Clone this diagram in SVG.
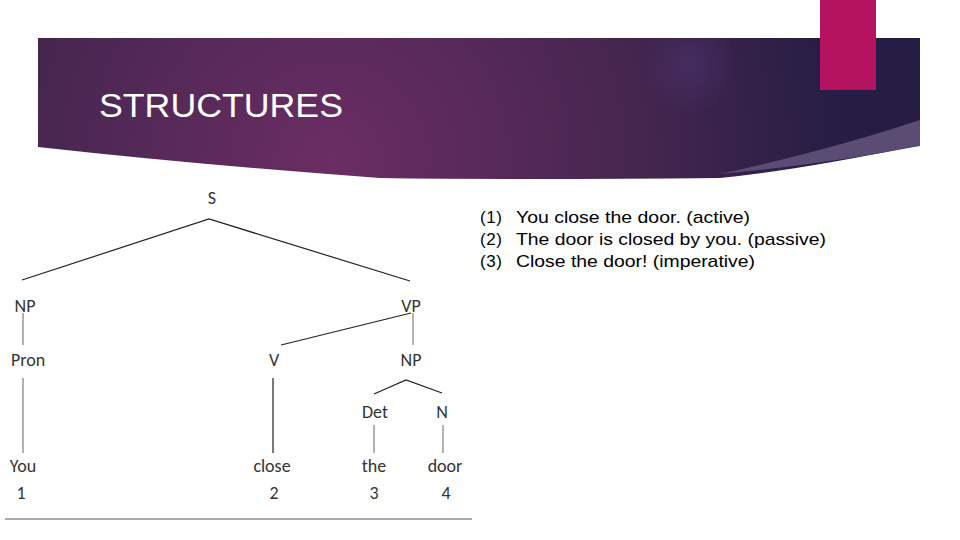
<svg xmlns="http://www.w3.org/2000/svg" width="960" height="540" viewBox="0 0 960 540">
<defs>
<radialGradient id="bg" cx="330" cy="160" r="520" gradientUnits="userSpaceOnUse">
<stop offset="0" stop-color="#6b2d64"/>
<stop offset="0.6" stop-color="#45264f"/>
<stop offset="1" stop-color="#251d44"/>
</radialGradient>
<radialGradient id="glow" cx="690" cy="65" r="50" gradientUnits="userSpaceOnUse">
<stop offset="0" stop-color="#4f3575" stop-opacity="0.5"/>
<stop offset="1" stop-color="#4f3575" stop-opacity="0"/>
</radialGradient>
<style>
.t{font-family:Calibri,"Carlito","Liberation Sans",sans-serif;font-size:18px;fill:#333;text-anchor:middle}
.e{stroke:#222;stroke-width:1.2;fill:none}
.v{stroke:#999;stroke-width:1.5;fill:none}
.ex{font-family:"Liberation Sans",Arial,sans-serif;font-size:17px;fill:#000}
</style>
</defs>
<rect width="960" height="540" fill="#fff"/>
<g id="banner">
<path d="M38 38H920V145Q800 170 720 178Q520 180 380 178Q200 165 38 147Z" fill="url(#bg)"/>
<rect x="38" y="38" width="882" height="140" fill="url(#glow)"/>
<path d="M920 120V146Q820 165 720 174Q830 150 920 120Z" fill="#5a4c72"/>
<rect x="820" y="0" width="56" height="90" fill="#b5135f"/>
<text x="99" y="117" font-family="'Liberation Sans',Arial,sans-serif" font-size="33" fill="#fff" textLength="244" lengthAdjust="spacingAndGlyphs">STRUCTURES</text>
</g>
<g id="connectors">
<path class="e" d="M22 280L209 219L410 281"/>
<path class="e" d="M281 345L411 313"/>
<path class="v" d="M413 313V345"/>
<path class="v" d="M23 313V345"/>
<path class="v" d="M23 378V453"/>
<path class="e" d="M273 378V453"/>
<path class="e" d="M374 394L406 380L442 393"/>
<path class="v" d="M374 425V453"/>
<path class="v" d="M443 425V453"/>
</g>
<g id="S"><text class="t" x="212" y="204">S</text></g>
<g id="NP1"><text class="t" x="25" y="312">NP</text></g>
<g id="VP"><text class="t" x="411" y="312">VP</text></g>
<g id="Pron"><text class="t" x="28" y="366">Pron</text></g>
<g id="V"><text class="t" x="274" y="366">V</text></g>
<g id="NP2"><text class="t" x="411" y="366">NP</text></g>
<g id="Det"><text class="t" x="375" y="418">Det</text></g>
<g id="N"><text class="t" x="442" y="418">N</text></g>
<g id="You"><text class="t" x="23" y="472">You</text><text class="t" x="21" y="499">1</text></g>
<g id="close"><text class="t" x="272" y="472">close</text><text class="t" x="274" y="499">2</text></g>
<g id="the"><text class="t" x="374" y="472">the</text><text class="t" x="374" y="499">3</text></g>
<g id="door"><text class="t" x="445" y="472">door</text><text class="t" x="446" y="499">4</text></g>
<line x1="5" y1="519" x2="472" y2="519" stroke="#aaa" stroke-width="2"/>
<g id="examples">
<text class="ex" x="480" y="223" textLength="22">(1)</text><text class="ex" x="516" y="223" textLength="234" lengthAdjust="spacingAndGlyphs">You close the door. (active)</text>
<text class="ex" x="480" y="245" textLength="22">(2)</text><text class="ex" x="516" y="245" textLength="310" lengthAdjust="spacingAndGlyphs">The door is closed by you. (passive)</text>
<text class="ex" x="480" y="267" textLength="22">(3)</text><text class="ex" x="516" y="267" textLength="239" lengthAdjust="spacingAndGlyphs">Close the door! (imperative)</text>
</g>
</svg>
